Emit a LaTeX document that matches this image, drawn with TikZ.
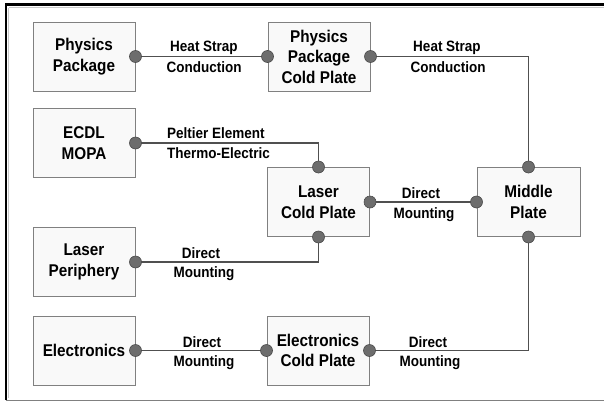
\documentclass[tikz,border=0pt]{standalone}
\usepackage{fontspec}
\setmainfont{Liberation Sans}
\newfontfamily\bxf[FakeStretch=0.9]{Liberation Sans}
\definecolor{boxedge}{HTML}{808080}
\definecolor{boxfill}{HTML}{F9F9F9}
\definecolor{linec}{HTML}{505050}
\definecolor{dotfill}{HTML}{6D6D6D}
\definecolor{dotedge}{HTML}{4A4A4A}
\definecolor{shadowc}{HTML}{C8C8C8}
\begin{document}
\begin{tikzpicture}[x=1pt,y=-1pt,
  box/.style={draw=boxedge, fill=boxfill, line width=1pt, minimum width=102pt,
    minimum height=69pt, inner sep=0pt, align=center,
    font=\bxf\bfseries\fontsize{17}{20.5}\selectfont},
  lab/.style={inner sep=0pt, font=\bxf\bfseries\fontsize{15}{18}\selectfont},
  conn/.style={draw=linec, line width=1.2pt},
  dotst/.style={fill=dotfill, draw=dotedge, line width=0.6pt}]
\useasboundingbox (0,0) rectangle (604,402);
% frame
\draw[shadowc, line width=1pt] (8.5,7.5) -- (604,7.5);
\draw[shadowc, line width=1pt] (8.5,7.5) -- (8.5,398);
\draw[black, line width=2.5pt] (6,400) -- (6,4.7) -- (604,4.7);
\draw[boxedge, line width=1.2pt] (6,400.5) -- (604,400.5);
% boxes
\node[box] (PP) at (84,56.5) {Physics\\Package};
\node[box] (PPCP) at (319,56.5) {Physics\\Package\\Cold Plate};
\node[box] (ECDL) at (84,143) {ECDL\\MOPA};
\node[box] (LCP) at (318.5,202) {Laser\\Cold Plate};
\node[box, minimum width=103pt] (MP) at (528.5,202) {Middle\\Plate};
\node[box] (LP) at (84,262) {Laser\\Periphery};
\node[box] (EL) at (84,350.5) {Electronics};
\node[box] (ECP) at (318,350.5) {Electronics\\Cold Plate};
% connectors
\draw[conn] (PP.east) -- (PPCP.west);
\draw[conn] (PPCP.east) -| (MP.north);
\draw[conn] (ECDL.east) -| (LCP.north);
\draw[conn] (LCP.east) -- (MP.west);
\draw[conn] (LCP.south) |- (LP.east);
\draw[conn] (EL.east) -- (ECP.west);
\draw[conn] (ECP.east) -| (MP.south);
% dots
\foreach \p in {PP.east, PPCP.west, PPCP.east, MP.north, ECDL.east, LCP.north,
  LCP.east, MP.west, LCP.south, LP.east, EL.east, ECP.west, ECP.east, MP.south}
  \filldraw[dotst] (\p) circle (6pt);
% labels
\node[lab, anchor=base] (a1) at (204,51) {Heat Strap};
\node[lab, anchor=base] (a2) at (204,72) {Conduction};
\node[lab, anchor=base] (b1) at (447,51) {Heat Strap};
\node[lab, anchor=base] (b2) at (448,72) {Conduction};
\node[lab, anchor=base west] (c1) at (167,138) {Peltier Element};
\node[lab, anchor=base west] (c2) at (167,158) {Thermo-Electric};
\node[lab, anchor=base] (d1) at (421,198) {Direct};
\node[lab, anchor=base] (d2) at (424,218) {Mounting};
\node[lab, anchor=base] (e1) at (201,258) {Direct};
\node[lab, anchor=base] (e2) at (204,277) {Mounting};
\node[lab, anchor=base] (f1) at (202,347) {Direct};
\node[lab, anchor=base] (f2) at (204,366) {Mounting};
\node[lab, anchor=base] (g1) at (428,347) {Direct};
\node[lab, anchor=base] (g2) at (430,366) {Mounting};
\end{tikzpicture}
\end{document}
